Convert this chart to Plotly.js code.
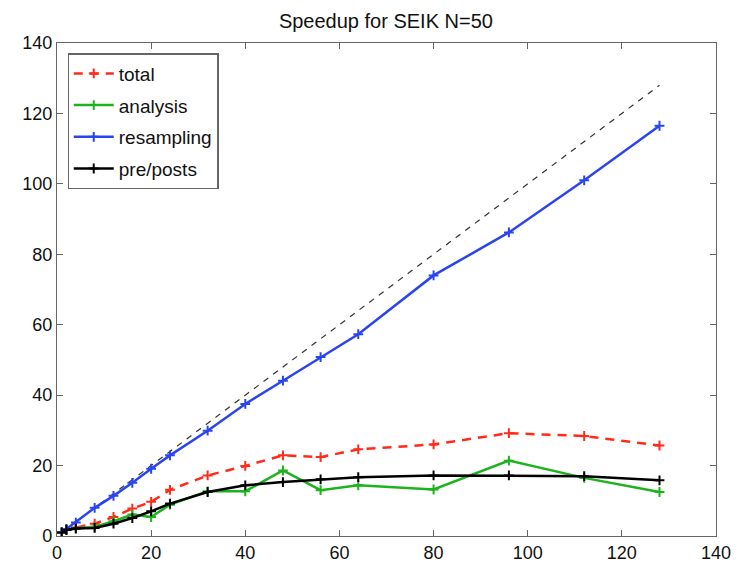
<!DOCTYPE html>
<html>
<head>
<meta charset="utf-8">
<script src="https://cdn.plot.ly/plotly-3.0.1.min.js"></script>
<style>html,body{margin:0;padding:0;background:#fff;}#chart{width:745px;height:562px;}</style>
</head>
<body>
<div id="chart"></div>
<script>
const procs = [1, 2, 4, 8, 12, 16, 20, 24, 32, 40, 48, 56, 64, 80, 96, 112, 128];
const total = [1, 1.8, 2.4, 3.5, 5.4, 7.8, 9.7, 13.1, 17.2, 19.9, 22.9, 22.4, 24.6, 26.0, 29.2, 28.4, 25.7];
const analysis = [1, 1.8, 2.2, 2.6, 4.2, 6.1, 5.4, 8.9, 12.7, 12.7, 18.6, 13.0, 14.4, 13.2, 21.4, 16.5, 12.5];
const resampling = [1, 2.0, 3.8, 8.0, 11.4, 15.1, 19.1, 22.9, 29.9, 37.5, 44.1, 50.8, 57.3, 74.0, 86.2, 101.0, 116.5];
const prepost = [1, 1.7, 2.1, 2.3, 3.5, 5.1, 7.0, 9.2, 12.5, 14.4, 15.3, 16.1, 16.7, 17.2, 17.2, 17.0, 15.8];
const idealX = [1, 128];
const idealY = [1, 128];
const names = ['total', 'analysis', 'resampling', 'pre/posts'];

const FONT = 'Liberation Sans, Arial, Helvetica, sans-serif';
const mk = (c) => ({symbol: 'cross-thin', size: 7, color: c, line: {color: c, width: 2}});
const traces = [
  {x: idealX, y: idealY, mode: 'lines', line: {color: '#333', width: 1.2, dash: '6px,6px'}, showlegend: false, hoverinfo: 'skip'},
  {x: procs, y: total, name: names[0], legendgroup: 'g1', mode: 'lines+markers', line: {color: '#ff2a1a', width: 2.5, dash: '9px,7px'}, marker: mk('#ff2a1a')},
  {x: procs, y: analysis, name: names[1], legendgroup: 'g2', mode: 'lines+markers', line: {color: '#1db31d', width: 2.5}, marker: mk('#1db31d')},
  {x: procs, y: resampling, name: names[2], legendgroup: 'g3', mode: 'lines+markers', line: {color: '#2a45f0', width: 2.5}, marker: mk('#2a45f0')},
  {x: procs, y: prepost, name: names[3], legendgroup: 'g4', mode: 'lines+markers', line: {color: '#000', width: 2.5}, marker: mk('#000')}
];

const ax = {
  showgrid: false, zeroline: false, showline: true, mirror: 'ticks',
  linecolor: '#666', linewidth: 1.2, ticks: 'inside', ticklen: 6, tickcolor: '#666',
  tickfont: {family: FONT, size: 18, color: '#111'},
  dtick: 20, tick0: 0
};

const layout = {
  width: 745, height: 562,
  margin: {l: 57, r: 29, t: 43, b: 26},
  paper_bgcolor: '#fff', plot_bgcolor: '#fff',
  title: {text: 'Speedup for SEIK N=50', x: 0.518, xanchor: 'center', y: 0.963, yanchor: 'middle',
          font: {family: FONT, size: 20, color: '#111'}},
  xaxis: Object.assign({}, ax, {range: [0, 140]}),
  yaxis: Object.assign({}, ax, {range: [0, 140]}),
  showlegend: true,
  legend: {x: 0.016, y: 0.979, xanchor: 'left', yanchor: 'top', bgcolor: '#fff',
           bordercolor: '#666', borderwidth: 1.2, traceorder: 'grouped',
           font: {family: FONT, size: 19, color: '#111'},
           tracegroupgap: 4, itemwidth: 40}
};

Plotly.newPlot('chart', traces, layout, {displayModeBar: false, staticPlot: true});
</script>
</body>
</html>
